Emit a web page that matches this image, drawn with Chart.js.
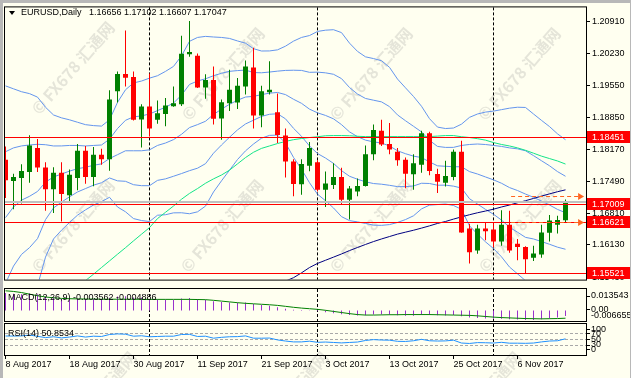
<!DOCTYPE html>
<html><head><meta charset="utf-8">
<script src="https://cdn.jsdelivr.net/npm/chart.js@4.4.1/dist/chart.umd.min.js"></script>
<style>
html,body{margin:0;padding:0;background:#FFFFF0;width:631px;height:378px;overflow:hidden;}
#wrap{position:relative;width:631px;height:378px;background:#FFFFF0;}
canvas{position:absolute;left:0;}
.lbl{position:absolute;font:9px "Liberation Sans",Arial,sans-serif;color:#000;white-space:pre;line-height:11px;}
#topbar{position:absolute;left:0;top:0;width:631px;height:3px;background:#B8B8B8;}
#leftbar{position:absolute;left:0;top:0;width:3px;height:378px;background:#B8B8B8;}
#rightbar{position:absolute;left:630px;top:0;width:1px;height:378px;background:#B8B8B8;}
#tri{position:absolute;left:9px;top:11px;width:0;height:0;border-left:3px solid transparent;border-right:3px solid transparent;border-top:4px solid #000;}
</style></head><body>
<div id="wrap">
<canvas id="wm" width="631" height="378" style="top:0"></canvas>
<canvas id="cMain" width="631" height="287" style="top:0"></canvas>
<canvas id="cMacd" width="631" height="36" style="top:287px"></canvas>
<canvas id="cRsi" width="631" height="56" style="top:322px"></canvas>
<div id="topbar"></div><div id="leftbar"></div><div id="rightbar"></div>
<div id="tri"></div>
<div class="lbl" id="hdr" style="left:21px;top:7px"></div>
<div class="lbl" id="macdLbl" style="left:8px;top:292px"></div>
<div class="lbl" id="rsiLbl" style="left:8px;top:328px"></div>
</div>
<script>
// ---------------- DATA ----------------
const symbolName = 'EURUSD,Daily';
const opens  = [1.17952,1.17495,1.17564,1.17689,1.18208,1.17786,1.17321,1.17675,1.17190,1.17564,
 1.18146,1.17585,1.18063,1.17966,1.19421,1.19795,1.19726,1.18818,1.19095,1.18811,
 1.18936,1.19102,1.19144,1.20217,1.20183,1.19504,1.19664,1.18839,1.19165,1.19179,
 1.19525,1.19934,1.18901,1.19400,1.18971,1.18472,1.17917,1.17425,1.17827,1.17897,
 1.17308,1.17412,1.17585,1.17093,1.17273,1.17391,1.18070,1.18576,1.18292,1.18125,
 1.17952,1.17640,1.17848,1.18520,1.17647,1.17460,1.17585,1.18125,1.16476,1.16005,
 1.16476,1.16455,1.16199,1.16559,1.16150,1.16081,1.15852,1.15922,1.16386,1.16559,1.16656];
const highs  = [1.18236,1.17654,1.17855,1.18479,1.18396,1.17897,1.17793,1.17897,1.17744,1.18292,
 1.18250,1.18229,1.18188,1.19442,1.19844,1.20724,1.19844,1.19144,1.19802,1.19227,
 1.19276,1.19525,1.20613,1.20930,1.20232,1.19788,1.19955,1.19248,1.19886,1.19705,
 1.20080,1.20357,1.19539,1.20066,1.19373,1.18624,1.17966,1.17966,1.18333,1.17945,
 1.17703,1.17876,1.17779,1.17391,1.17550,1.18257,1.18707,1.18811,1.18742,1.18208,
 1.18001,1.18070,1.18576,1.18555,1.17758,1.17931,1.18174,1.18361,1.16580,1.16559,
 1.16601,1.16615,1.16871,1.16857,1.16254,1.16095,1.16109,1.16559,1.16767,1.16753,1.17102];
const lows   = [1.17134,1.16892,1.17017,1.17460,1.17689,1.16857,1.16809,1.16628,1.17065,1.17301,
 1.17439,1.17384,1.17848,1.17716,1.19179,1.19525,1.18798,1.18215,1.18451,1.18728,
 1.18673,1.19089,1.19109,1.20161,1.19490,1.19262,1.18707,1.18382,1.19000,1.19040,
 1.19352,1.18624,1.18652,1.19352,1.18312,1.17571,1.17169,1.17204,1.17709,1.17273,
 1.16940,1.17328,1.16982,1.16670,1.17169,1.17377,1.17945,1.18250,1.18070,1.17827,
 1.17342,1.17308,1.17675,1.17619,1.17238,1.17377,1.17515,1.16386,1.15727,1.15935,
 1.16226,1.16074,1.16109,1.15956,1.15797,1.15520,1.15783,1.15852,1.16199,1.16372,1.16607];
const closes = [1.17515,1.17585,1.17710,1.18257,1.17786,1.17321,1.17675,1.17217,1.17633,1.18146,
 1.17585,1.18063,1.17966,1.19248,1.19795,1.19712,1.18811,1.19095,1.18624,1.18950,
 1.19116,1.19165,1.20225,1.20265,1.19504,1.19664,1.18832,1.19186,1.19456,1.19539,
 1.19955,1.18901,1.19421,1.19456,1.18486,1.17917,1.17432,1.17862,1.18208,1.17308,
 1.17446,1.17585,1.17093,1.17335,1.17391,1.18070,1.18590,1.18278,1.18174,1.17945,
 1.17654,1.17876,1.18520,1.17710,1.17481,1.17606,1.18125,1.16393,1.15970,1.16476,
 1.16420,1.16199,1.16559,1.16005,1.16081,1.15818,1.15942,1.16393,1.16649,1.16663,1.17047];

const bbUpper2 = [1.19538,1.19475,1.19413,1.19372,1.19297,1.19080,1.18914,1.18852,1.18810,1.18758,
 1.18706,1.18686,1.18675,1.18810,1.19184,1.19455,1.19601,1.19642,1.19704,1.19756,
 1.19849,1.19956,1.20182,1.20494,1.20577,1.20600,1.20587,1.20577,1.20556,1.20502,
 1.20454,1.20336,1.20286,1.20288,1.20311,1.20390,1.20498,1.20577,1.20618,1.20706,
 1.20733,1.20743,1.20681,1.20455,1.20278,1.20161,1.20124,1.20078,1.19936,1.19684,
 1.19496,1.19311,1.19101,1.18834,1.18654,1.18623,1.18634,1.18717,1.18863,1.18935,
 1.18976,1.18997,1.19028,1.19060,1.19080,1.19075,1.18935,1.18798,1.18665,1.18509,1.18383];
const bbUpper1 = [1.18125,1.18208,1.18250,1.18270,1.18285,1.18276,1.18249,1.18250,1.18260,1.18260,
 1.18249,1.18260,1.18270,1.18395,1.18623,1.18800,1.18873,1.18894,1.18935,1.19008,
 1.19081,1.19170,1.19340,1.19569,1.19642,1.19690,1.19756,1.19808,1.19850,1.19866,
 1.19877,1.19824,1.19819,1.19835,1.19854,1.19870,1.19874,1.19870,1.19829,1.19833,
 1.19818,1.19787,1.19694,1.19503,1.19363,1.19268,1.19231,1.19195,1.19093,1.18915,
 1.18790,1.18671,1.18551,1.18370,1.18239,1.18218,1.18219,1.18260,1.18281,1.18291,
 1.18280,1.18260,1.18239,1.18208,1.18187,1.18146,1.18042,1.17932,1.17824,1.17699,1.17599];
const bbMid = [1.16712,1.16940,1.17086,1.17169,1.17273,1.17472,1.17584,1.17647,1.17709,1.17761,
 1.17792,1.17834,1.17865,1.17979,1.18062,1.18146,1.18146,1.18146,1.18166,1.18260,
 1.18312,1.18385,1.18499,1.18644,1.18707,1.18779,1.18925,1.19039,1.19143,1.19230,
 1.19299,1.19313,1.19351,1.19382,1.19397,1.19351,1.19251,1.19164,1.19039,1.18960,
 1.18904,1.18831,1.18707,1.18551,1.18449,1.18374,1.18337,1.18312,1.18249,1.18146,
 1.18083,1.18031,1.18000,1.17907,1.17823,1.17813,1.17803,1.17803,1.17699,1.17647,
 1.17584,1.17522,1.17449,1.17356,1.17293,1.17217,1.17148,1.17065,1.16982,1.16888,1.16816];
const bbLower1 = [1.15299,1.15672,1.15922,1.16068,1.16261,1.16668,1.16919,1.17044,1.17158,1.17262,
 1.17335,1.17408,1.17460,1.17563,1.17501,1.17491,1.17418,1.17397,1.17397,1.17511,
 1.17543,1.17599,1.17657,1.17719,1.17772,1.17869,1.18094,1.18270,1.18436,1.18594,
 1.18721,1.18802,1.18883,1.18929,1.18940,1.18831,1.18628,1.18457,1.18249,1.18087,
 1.17990,1.17875,1.17720,1.17599,1.17535,1.17480,1.17443,1.17429,1.17405,1.17377,
 1.17376,1.17391,1.17449,1.17444,1.17407,1.17408,1.17387,1.17346,1.17117,1.17003,
 1.16888,1.16784,1.16659,1.16504,1.16399,1.16288,1.16254,1.16198,1.16140,1.16078,1.16033];
const bbLower2 = [1.13886,1.14405,1.14758,1.14966,1.15249,1.15864,1.16254,1.16442,1.16608,1.16764,
 1.16878,1.16982,1.17055,1.17148,1.16940,1.16837,1.16691,1.16649,1.16628,1.16763,
 1.16774,1.16814,1.16816,1.16795,1.16836,1.16959,1.17262,1.17501,1.17730,1.17958,
 1.18144,1.18291,1.18416,1.18476,1.18482,1.18312,1.18004,1.17751,1.17460,1.17214,
 1.17075,1.16919,1.16733,1.16647,1.16620,1.16587,1.16550,1.16546,1.16562,1.16608,
 1.16670,1.16751,1.16899,1.16980,1.16992,1.17003,1.16972,1.16889,1.16535,1.16359,
 1.16192,1.16047,1.15870,1.15652,1.15506,1.15359,1.15361,1.15332,1.15299,1.15267,1.15249];
const maGreen = [null,null,null,null,null,null,null,null,null,1.15195,
 1.15361,1.15498,1.15641,1.15783,1.15926,1.16067,1.16213,1.16356,1.16498,1.16691,
 1.16826,1.16961,1.17106,1.17231,1.17335,1.17449,1.17543,1.17626,1.17730,1.17865,
 1.18000,1.18114,1.18197,1.18249,1.18301,1.18347,1.18384,1.18409,1.18430,1.18447,
 1.18468,1.18472,1.18472,1.18468,1.18457,1.18450,1.18450,1.18450,1.18450,1.18450,
 1.18450,1.18450,1.18450,1.18450,1.18461,1.18472,1.18472,1.18447,1.18430,1.18405,
 1.18374,1.18322,1.18281,1.18249,1.18208,1.18156,1.18094,1.18031,1.17979,1.17927,1.17861];
const maNavy = [null,null,null,null,null,null,null,null,null,null,
 null,null,null,null,null,null,null,null,null,null,
 null,null,null,null,null,null,null,null,null,null,
 null,null,null,null,null,1.15350,1.15423,1.15527,1.15641,1.15729,
 1.15797,1.15864,1.15932,1.16005,1.16071,1.16136,1.16198,1.16254,1.16306,1.16358,
 1.16400,1.16441,1.16487,1.16535,1.16587,1.16629,1.16680,1.16728,1.16774,1.16816,
 1.16853,1.16893,1.16940,1.16982,1.17030,1.17075,1.17123,1.17173,1.17221,1.17267,1.17308];
const macdMain = [0.0110,0.0106,0.0103,0.0108,0.0102,0.0085,0.0080,0.0072,0.0070,0.0074,
 0.0070,0.0072,0.0070,0.0080,0.0088,0.0090,0.0082,0.0080,0.0072,0.0070,
 0.0069,0.0068,0.0075,0.0078,0.0072,0.0068,0.0058,0.0054,0.0051,0.0049,
 0.0050,0.0040,0.0035,0.0030,0.0020,0.0010,0.0004,0.0003,0.0002,-0.0004,
 -0.0012,-0.0018,-0.0024,-0.0029,-0.0032,-0.0030,-0.0026,-0.0026,-0.0027,-0.0030,
 -0.0033,-0.0033,-0.0028,-0.0029,-0.0031,-0.0032,-0.0028,-0.0036,-0.0045,-0.0048,
 -0.0050,-0.0053,-0.0052,-0.0055,-0.0057,-0.0060,-0.0060,-0.0056,-0.0050,-0.0045,-0.003562];
const macdSignal = [0.0124,0.0120,0.0113,0.0103,0.0093,0.0085,0.0080,0.0076,0.0074,0.0073,
 0.0072,0.0072,0.0071,0.0071,0.0071,0.0071,0.0071,0.0070,0.0070,0.0070,
 0.0070,0.0070,0.0070,0.0070,0.0069,0.0068,0.0064,0.0059,0.0054,0.0049,
 0.0045,0.0042,0.0039,0.0036,0.0032,0.0026,0.0020,0.0015,0.0011,0.0007,
 0.0001,-0.0006,-0.0013,-0.0020,-0.0026,-0.0029,-0.0029,-0.0028,-0.0027,-0.0027,
 -0.0026,-0.0026,-0.0026,-0.0026,-0.0027,-0.0028,-0.0029,-0.0030,-0.0031,-0.0034,
 -0.0038,-0.0042,-0.0045,-0.0047,-0.0049,-0.0051,-0.0052,-0.0053,-0.0052,-0.0051,-0.004886];
const rsi14 = [60.7,60.5,61,64,59.5,55,58,54,57,61,
 57,60,59,66,68,67,60,61.5,58,59,
 60,60,66,66.5,59,60,53,56,58,58.5,
 61,53,53,53.5,47,43,40,40,42.5,38.5,
 39.5,38,36.5,38,39.5,45,48,46.5,46,42,
 41.5,44,49,44,43,43.5,46,36,34.5,37.5,
 37,36,38.5,35.5,35.5,35,36,40,43,44,50.8534];

const dateTickIdx = [0,8,16,24,32,40,48,56,64];
const dateTickLabels = ['8 Aug 2017','18 Aug 2017','30 Aug 2017','11 Sep 2017','21 Sep 2017','3 Oct 2017','13 Oct 2017','25 Oct 2017','6 Nov 2017'];
const priceTicks = [1.20910,1.20230,1.19550,1.18850,1.18170,1.17490,1.16810,1.16130,1.15430];
const redLevels = [1.18451,1.17009,1.16621,1.15521];
const bidLevel = 1.17047;
const arrowLevels = [1.17169,1.16608];
const arrowFromBar = 63.2, arrowToBar = 72.2;
const separatorIdx = [18,39,61];
const rsiLevels = [70,50,30];
const rsiAxisLabels = [100,70,50,30,0];
const macdAxisLabels = [0.013543,0,-0.006655];
const priceRange = {min:1.153821, max:1.212217};
const barRange = {min:-0.0625, max:72.5625};

// ---------------- SETUP ----------------
const FONT = '"Liberation Sans", Arial, sans-serif';
Chart.defaults.font.family = FONT;
Chart.defaults.font.size = 9;
Chart.defaults.color = '#000';

document.getElementById('hdr').textContent = symbolName + '   ' + [opens[70],highs[70],lows[70],closes[70]].map(v=>v.toFixed(5)).join(' ');
document.getElementById('macdLbl').textContent = 'MACD(12,26,9) ' + macdMain[70].toFixed(6) + ' ' + macdSignal[70].toFixed(6);
document.getElementById('rsiLbl').textContent = 'RSI(14) ' + rsi14[70].toFixed(4);

// watermark
(function(){
  const c = document.getElementById('wm').getContext('2d');
  const spots = [[73,68],[223,74],[371,74],[519,74],[73,226],[222,226],[371,226],[520,226],[95,398],[287,398],[480,398]];
  c.fillStyle = 'rgba(170,170,165,0.30)';
  c.font = 'bold 16px "Noto Sans CJK SC", "DejaVu Sans", sans-serif';
  c.textAlign = 'center'; c.textBaseline = 'middle';
  spots.forEach(([x,y])=>{ c.save(); c.translate(x,y); c.rotate(-49*Math.PI/180); c.fillText('© FX678 汇通网',0,0); c.restore(); });
})();

const pts = arr => arr.map((v,i)=> v===null?null:{x:i,y:v}).filter(p=>p);
const upCol = '#008000', dnCol = '#FF0000';
const candleCols = opens.map((o,i)=> closes[i]>=o ? upCol : dnCol);

const common = {
  responsive:false, maintainAspectRatio:false, animation:false, devicePixelRatio:1, events:[],
  plugins:{legend:{display:false}, tooltip:{enabled:false}, title:{display:false}},
};
const xHidden = {type:'linear', min:barRange.min, max:barRange.max, display:false, offset:false, grid:{offset:false}};

const framePlugin = {
  id:'frame',
  beforeDatasetsDraw(chart){
    const {ctx, chartArea:a, scales:{x}} = chart;
    ctx.save(); ctx.strokeStyle='#000'; ctx.lineWidth=1; ctx.setLineDash([3,2]);
    separatorIdx.forEach(i=>{ const px = Math.round(x.getPixelForValue(i)-0.5)+0.5; ctx.beginPath(); ctx.moveTo(px,a.top); ctx.lineTo(px,a.bottom); ctx.stroke(); });
    ctx.restore();
  },
  afterDraw(chart){
    const {ctx, chartArea:a} = chart;
    ctx.save(); ctx.strokeStyle='#000'; ctx.lineWidth=1; ctx.setLineDash([]);
    ctx.strokeRect(a.left-0.5, a.top-0.5, a.right-a.left+1, a.bottom-a.top+1);
    ctx.restore();
  }
};

const mainDeco = {
  id:'mainDeco',
  afterDatasetsDraw(chart){
    const {ctx, chartArea:a, scales:{x,y}} = chart;
    ctx.save();
    ctx.setLineDash([]);
    // bid line
    const pb = Math.round(y.getPixelForValue(bidLevel));
    ctx.fillStyle = '#C0C0C0'; ctx.fillRect(a.left, pb-1, a.right-a.left, 2);
    // horizontal red levels
    ctx.fillStyle = '#FF0000';
    redLevels.forEach(v=>{ const p = Math.round(y.getPixelForValue(v)); ctx.fillRect(a.left, p, a.right-a.left, 1); });
    // dashed arrows
    ctx.strokeStyle = '#FF6420'; ctx.fillStyle = '#FF6420'; ctx.lineWidth = 1; ctx.setLineDash([4,3]);
    arrowLevels.forEach(v=>{
      const p = Math.round(y.getPixelForValue(v))+0.5;
      const x1 = x.getPixelForValue(arrowFromBar), x2 = x.getPixelForValue(arrowToBar);
      ctx.beginPath(); ctx.moveTo(x1,p); ctx.lineTo(x2-5,p); ctx.stroke();
      ctx.beginPath(); ctx.moveTo(x2-5,p-3.5); ctx.lineTo(x2+1,p); ctx.lineTo(x2-5,p+3.5); ctx.closePath(); ctx.fill();
    });
    ctx.restore();
  },
  afterDraw(chart){
    const {ctx, chartArea:a, scales:{y}} = chart;
    ctx.save();
    ctx.font = '9px ' + FONT; ctx.textBaseline = 'middle'; ctx.textAlign = 'left';
    redLevels.forEach(v=>{
      const p = Math.round(y.getPixelForValue(v));
      ctx.fillStyle = '#FF0000'; ctx.fillRect(a.right+1, p-6, 631-(a.right+1)-1, 12);
      ctx.fillStyle = '#FFFFFF'; ctx.fillText(v.toFixed(5), a.right+6, p+0.5);
    });
    ctx.restore();
  }
};

// ---------------- MAIN CHART ----------------
const lineDs = (arr, col, order) => ({type:'line', data:pts(arr), borderColor:col, borderWidth:1, pointRadius:0, tension:0, fill:false, clip:0, order});
new Chart(document.getElementById('cMain'), {
  type:'bar',
  data:{datasets:[
    {type:'bar', data: opens.map((o,i)=>({x:i, y:[o, closes[i]]})), backgroundColor:candleCols, barThickness:5, grouped:false, inflateAmount:0, minBarLength:1, order:0},
    {type:'bar', data: lows.map((l,i)=>({x:i, y:[l, highs[i]]})), backgroundColor:candleCols, barThickness:1, grouped:false, inflateAmount:0, order:1},
    lineDs(maNavy, '#000080', 2),
    lineDs(maGreen, '#14E488', 3),
    lineDs(bbUpper2, '#6495ED', 4),
    lineDs(bbUpper1, '#6495ED', 4),
    lineDs(bbMid, '#6495ED', 4),
    lineDs(bbLower1, '#6495ED', 4),
    lineDs(bbLower2, '#6495ED', 4),
  ]},
  options:{...common,
    layout:{padding:{left:5, top:5, right:0, bottom:1}, autoPadding:false},
    scales:{
      x: xHidden,
      y:{position:'right', min:priceRange.min, max:priceRange.max,
        afterFit:s=>{s.width=45;},
        afterBuildTicks:s=>{s.ticks = priceTicks.map(v=>({value:v}));},
        ticks:{callback:v=>Number(v).toFixed(5), padding:2, autoSkip:false, font:{size:9, family:FONT}, color:'#000'},
        grid:{drawOnChartArea:false, drawTicks:true, tickLength:4, color:'#000'},
        border:{display:false}}
    }
  },
  plugins:[framePlugin, mainDeco]
});

// ---------------- MACD ----------------
const macdAxisPlugin = {
  id:'macdAxis',
  afterDraw(chart){
    const {ctx, chartArea:a, scales:{y}} = chart;
    ctx.save(); ctx.font='9px '+FONT; ctx.fillStyle='#000'; ctx.textBaseline='middle'; ctx.textAlign='left';
    ctx.strokeStyle='#000'; ctx.lineWidth=1;
    macdAxisLabels.forEach((v,k)=>{
      let p = y.getPixelForValue(v);
      if (k===0) p += 6.5; else if (k===macdAxisLabels.length-1) p -= 5; else p -= 1;
      const txt = v===0 ? '0.00' : v.toFixed(6);
      ctx.fillText(txt, a.right+5, p);
      if (k<2){ const q=Math.round(p)+0.5; ctx.beginPath(); ctx.moveTo(a.right+1,q); ctx.lineTo(a.right+4,q); ctx.stroke(); }
    });
    ctx.restore();
  }
};
new Chart(document.getElementById('cMacd'), {
  type:'bar',
  data:{datasets:[
    {type:'line', data:pts(macdSignal), borderColor:'#008000', borderWidth:1, pointRadius:0, tension:0, clip:0, order:0},
    {type:'bar', data:macdMain.map((v,i)=>({x:i, y:[0,v]})), backgroundColor:'#9932CC', barThickness:1, grouped:false, inflateAmount:0, order:1},
  ]},
  options:{...common,
    layout:{padding:{left:5, top:2, right:0, bottom:2}, autoPadding:false},
    scales:{
      x: xHidden,
      y:{position:'right', min:macdAxisLabels[2], max:macdAxisLabels[0], afterFit:s=>{s.width=45;},
        ticks:{display:false}, grid:{display:false}, border:{display:false}}
    }
  },
  plugins:[framePlugin, macdAxisPlugin]
});

// ---------------- RSI ----------------
const rsiPlugin = {
  id:'rsiDeco',
  beforeDatasetsDraw(chart){
    const {ctx, chartArea:a, scales:{y}} = chart;
    ctx.save(); ctx.strokeStyle='#A8A8A8'; ctx.lineWidth=1; ctx.setLineDash([3,2]);
    rsiLevels.forEach(v=>{ const p=Math.round(y.getPixelForValue(v))+0.5; ctx.beginPath(); ctx.moveTo(a.left,p); ctx.lineTo(a.right,p); ctx.stroke(); });
    ctx.restore();
  },
  afterDraw(chart){
    const {ctx, chartArea:a, scales:{y}} = chart;
    ctx.save(); ctx.font='9px '+FONT; ctx.fillStyle='#000'; ctx.textBaseline='middle'; ctx.textAlign='left';
    ctx.strokeStyle='#000'; ctx.lineWidth=1;
    rsiAxisLabels.forEach((v,k)=>{
      let p = y.getPixelForValue(v);
      if (k===0) p += 4.5; else if (k===rsiAxisLabels.length-1) p -= 4;
      ctx.fillText(String(v), a.right+5, p);
      const q=Math.round(p)+0.5; ctx.beginPath(); ctx.moveTo(a.right+1,q); ctx.lineTo(a.right+4,q); ctx.stroke();
    });
    ctx.restore();
  }
};
new Chart(document.getElementById('cRsi'), {
  type:'line',
  data:{datasets:[
    {data:pts(rsi14), borderColor:'#1E90FF', borderWidth:1, pointRadius:0, tension:0, clip:0}
  ]},
  options:{...common,
    layout:{padding:{left:5, top:2, right:0, bottom:0}, autoPadding:false},
    scales:{
      x:{type:'linear', position:'bottom', min:barRange.min, max:barRange.max, offset:false,
        afterFit:s=>{s.height=23;},
        afterBuildTicks:s=>{s.ticks = dateTickIdx.map(v=>({value:v}));},
        ticks:{callback:(v,i)=>dateTickLabels[i], align:'start', padding:0, maxRotation:0, minRotation:0, autoSkip:false, font:{size:9, family:FONT}, color:'#000'},
        grid:{offset:false, drawOnChartArea:false, drawTicks:true, tickLength:4, color:'#000'},
        border:{display:false}},
      y:{position:'right', min:-6, max:102.8, afterFit:s=>{s.width=45;},
        ticks:{display:false}, grid:{display:false}, border:{display:false}}
    }
  },
  plugins:[framePlugin, rsiPlugin]
});
</script>
</body></html>
